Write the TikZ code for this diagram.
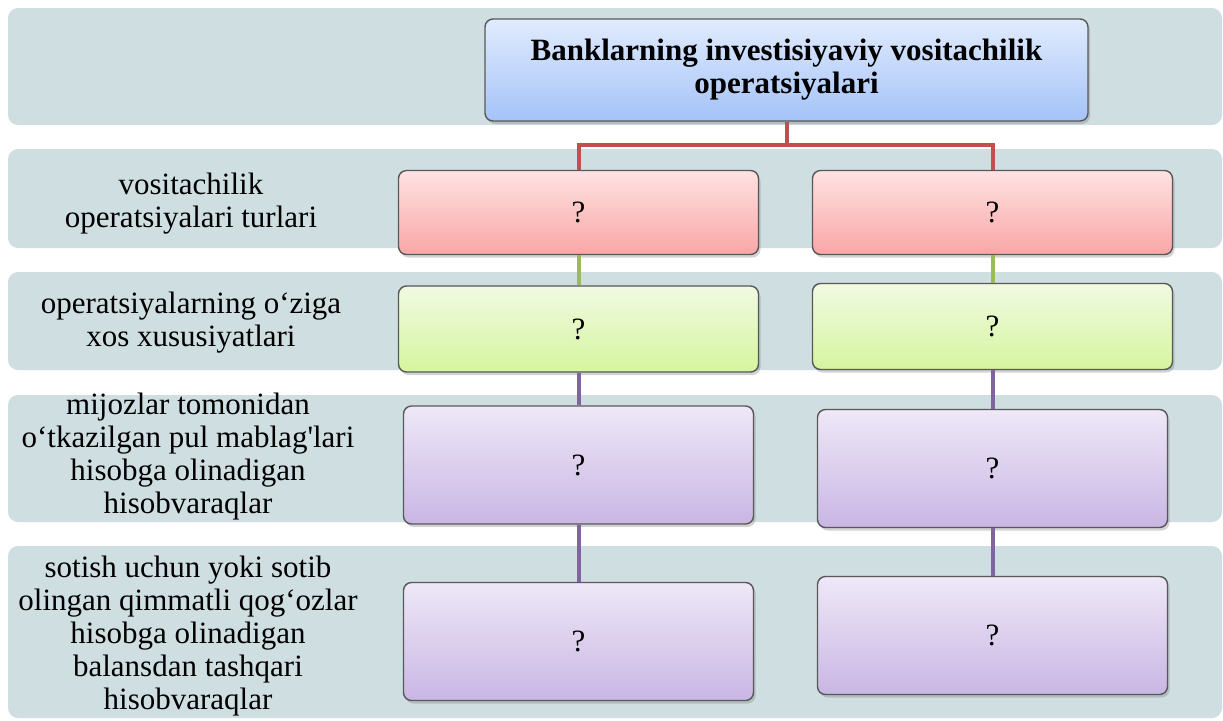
\documentclass[tikz,border=0pt]{standalone}
\usepackage{fontspec}
\setmainfont{Liberation Serif}
\usepackage{tikz}
\usetikzlibrary{positioning,shadows}
\definecolor{bandgrey}{RGB}{207,222,225}
\definecolor{edgegrey}{RGB}{88,88,88}
\definecolor{blueA}{RGB}{225,235,253}
\definecolor{blueB}{RGB}{164,195,248}
\definecolor{redA}{RGB}{255,226,226}
\definecolor{redB}{RGB}{250,166,166}
\definecolor{greenA}{RGB}{241,250,226}
\definecolor{greenB}{RGB}{213,245,158}
\definecolor{lilacA}{RGB}{238,232,247}
\definecolor{lilacB}{RGB}{201,182,228}
\definecolor{redlink}{RGB}{192,80,77}
\definecolor{greenlink}{RGB}{155,187,89}
\definecolor{lilaclink}{RGB}{128,100,162}

\begin{document}
\begin{tikzpicture}[x=0.5pt, y=-0.5pt,
    band/.style={fill=bandgrey, rounded corners=5pt},
    box/.style={rectangle, draw=edgegrey, line width=0.7pt, rounded corners=4pt, inner sep=0pt, align=center,
        font=\fontsize{15.5}{16.5}\selectfont,
        drop shadow={shadow xshift=1pt, shadow yshift=-1.5pt, opacity=0.35}},
    head/.style={box, top color=blueA, bottom color=blueB, minimum width=301.5pt, minimum height=51pt,
        font=\fontsize{15.5}{16.5}\selectfont\bfseries},
    typebox/.style={box, top color=redA, bottom color=redB, minimum width=180pt, minimum height=42pt},
    featbox/.style={box, top color=greenA, bottom color=greenB, minimum width=180pt, minimum height=43pt},
    accbox/.style={box, top color=lilacA, bottom color=lilacB, minimum width=175pt, minimum height=59pt},
    rowtext/.style={align=center, inner sep=0pt, font=\fontsize{15.5}{16.5}\selectfont},
    redline/.style={draw=redlink, line width=2pt},
    greenline/.style={draw=greenlink, line width=2pt},
    lilacline/.style={draw=lilaclink, line width=2pt}
]
    \useasboundingbox (0,0) rectangle (1223,720);
    \foreach \ya/\yb in {8/125, 149/248, 272/370, 395/522, 546/718}
        \fill[band] (8,\ya) rectangle (1222,\yb);

    \node[head] (top) at (786.5,70) {Banklarning investisiyaviy vositachilik\\operatsiyalari};

    \node[typebox] (t1) at (578.5,212.5) {?};
    \node[typebox] (t2) at (992.5,212.5) {?};
    \node[featbox] (f1) at (578.5,329) {?};
    \node[featbox] (f2) at (992.5,326.5) {?};
    \node[accbox] (a1) at (578.5,465) {?};
    \node[accbox] (a2) at (992.5,468.5) {?};
    \node[accbox] (b1) at (578.5,641.5) {?};
    \node[accbox] (b2) at (992.5,635.5) {?};

    \node[rowtext] (l1) at (191,204) {vositachilik\\operatsiyalari turlari};
    \node[rowtext] (l2) at (191,323) {operatsiyalarning o‘ziga\\xos xususiyatlari};
    \node[rowtext] (l3) at (188,457) {mijozlar tomonidan\\o‘tkazilgan pul mablag\textquotesingle lari\\hisobga olinadigan\\hisobvaraqlar};
    \node[rowtext] (l4) at (188,636) {sotish uchun yoki sotib\\olingan qimmatli qog‘ozlar\\hisobga olinadigan\\balansdan tashqari\\hisobvaraqlar};

    \coordinate (fork) at (786.5,145);
    \draw[redline] (top.south) -- (fork);
    \draw[redline] (fork) -| (t1.north);
    \draw[redline] (fork) -| (t2.north);
    \draw[greenline] (t1.south) -- (f1.north);
    \draw[greenline] (t2.south) -- (f2.north);
    \draw[lilacline] (f1.south) -- (a1.north);
    \draw[lilacline] (f2.south) -- (a2.north);
    \draw[lilacline] (a1.south) -- (b1.north);
    \draw[lilacline] (a2.south) -- (b2.north);
\end{tikzpicture}
\end{document}
